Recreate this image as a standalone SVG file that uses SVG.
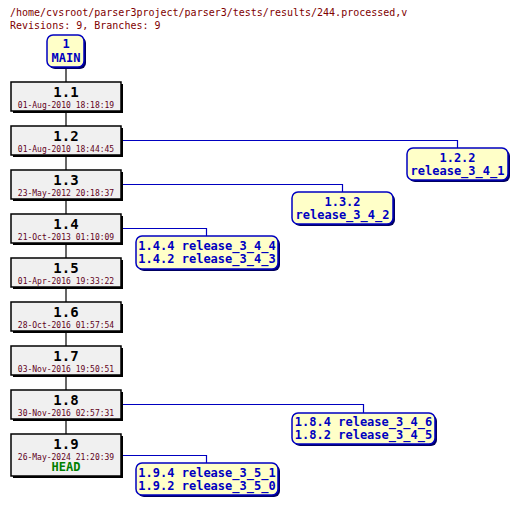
<svg xmlns="http://www.w3.org/2000/svg" width="518" height="505" viewBox="0 0 518 505">
<style>
.hdr{font-family:"DejaVu Sans Mono","Liberation Mono",monospace;font-size:10px;fill:#800000}
.rv{fill:#f0f0f0;stroke:#000;stroke-width:1.5}
.sh{fill:#000}
.bsh{fill:#000060}
.num{font-family:"DejaVu Sans Mono","Liberation Mono",monospace;font-size:14px;font-weight:bold;fill:#000;text-anchor:middle}
.dt{font-family:"DejaVu Sans Mono","Liberation Mono",monospace;font-size:8px;fill:#600020;text-anchor:middle}
.head{font-family:"DejaVu Sans Mono","Liberation Mono",monospace;font-size:12px;font-weight:bold;fill:#008000;text-anchor:middle}
.br{fill:#ffffc8;stroke:#0000c0;stroke-width:1.5}
.bt{font-family:"DejaVu Sans Mono","Liberation Mono",monospace;font-size:12px;font-weight:bold;fill:#0000c0;text-anchor:middle}
.tl{stroke:#000;stroke-width:1.2;fill:none}
.bl{stroke:#0000c0;stroke-width:1.2;fill:none}
</style>
<text class="hdr" x="10" y="16">/home/cvsroot/parser3project/parser3/tests/results/244.processed,v</text>
<text class="hdr" x="10" y="29">Revisions: 9, Branches: 9</text>
<g id="connectors">
<line class="tl" x1="66" y1="67" x2="66" y2="434"/>
<polyline class="bl" points="121,140.5 457.5,140.5 457.5,148"/>
<polyline class="bl" points="121,184.5 342.5,184.5 342.5,192"/>
<polyline class="bl" points="121,228.5 206.5,228.5 206.5,236"/>
<polyline class="bl" points="121,404.5 363.5,404.5 363.5,413"/>
<polyline class="bl" points="121,455.5 206.5,455.5 206.5,463"/>
</g>
<g id="main">
<rect class="bsh" x="49" y="37" width="37" height="32" rx="6"/>
<rect class="br" x="47" y="35" width="37" height="32" rx="6"/>
<text class="bt" x="66" y="48">1</text>
<text class="bt" x="66" y="62">MAIN</text>
</g>
<g id="r1_1">
<rect class="sh" x="13" y="84" width="110" height="29"/>
<rect class="rv" x="11" y="82" width="110" height="29"/>
<text class="num" x="66" y="97">1.1</text>
<text class="dt" x="66" y="107.5">01-Aug-2010 18:18:19</text>
</g>
<g id="r1_2">
<rect class="sh" x="13" y="128" width="110" height="29"/>
<rect class="rv" x="11" y="126" width="110" height="29"/>
<text class="num" x="66" y="141">1.2</text>
<text class="dt" x="66" y="151.5">01-Aug-2010 18:44:45</text>
</g>
<g id="r1_3">
<rect class="sh" x="13" y="172" width="110" height="29"/>
<rect class="rv" x="11" y="170" width="110" height="29"/>
<text class="num" x="66" y="185">1.3</text>
<text class="dt" x="66" y="195.5">23-May-2012 20:18:37</text>
</g>
<g id="r1_4">
<rect class="sh" x="13" y="216" width="110" height="29"/>
<rect class="rv" x="11" y="214" width="110" height="29"/>
<text class="num" x="66" y="229">1.4</text>
<text class="dt" x="66" y="239.5">21-Oct-2013 01:10:09</text>
</g>
<g id="r1_5">
<rect class="sh" x="13" y="260" width="110" height="29"/>
<rect class="rv" x="11" y="258" width="110" height="29"/>
<text class="num" x="66" y="273">1.5</text>
<text class="dt" x="66" y="283.5">01-Apr-2016 19:33:22</text>
</g>
<g id="r1_6">
<rect class="sh" x="13" y="304" width="110" height="29"/>
<rect class="rv" x="11" y="302" width="110" height="29"/>
<text class="num" x="66" y="317">1.6</text>
<text class="dt" x="66" y="327.5">28-Oct-2016 01:57:54</text>
</g>
<g id="r1_7">
<rect class="sh" x="13" y="348" width="110" height="29"/>
<rect class="rv" x="11" y="346" width="110" height="29"/>
<text class="num" x="66" y="361">1.7</text>
<text class="dt" x="66" y="371.5">03-Nov-2016 19:50:51</text>
</g>
<g id="r1_8">
<rect class="sh" x="13" y="392" width="110" height="29"/>
<rect class="rv" x="11" y="390" width="110" height="29"/>
<text class="num" x="66" y="405">1.8</text>
<text class="dt" x="66" y="415.5">30-Nov-2016 02:57:31</text>
</g>
<g id="r1_9">
<rect class="sh" x="13" y="436" width="110" height="42"/>
<rect class="rv" x="11" y="434" width="110" height="42"/>
<text class="num" x="66" y="449">1.9</text>
<text class="dt" x="66" y="459.5">26-May-2024 21:20:39</text>
<text class="head" x="66" y="471">HEAD</text>
</g>
<g id="b1_2_2">
<rect class="bsh" x="409" y="150" width="101" height="32" rx="6"/>
<rect class="br" x="407" y="148" width="101" height="32" rx="6"/>
<text class="bt" x="457.5" y="162">1.2.2</text>
<text class="bt" x="457.5" y="175">release_3_4_1</text>
</g>
<g id="b1_3_2">
<rect class="bsh" x="294" y="194" width="101" height="32" rx="6"/>
<rect class="br" x="292" y="192" width="101" height="32" rx="6"/>
<text class="bt" x="342.5" y="206">1.3.2</text>
<text class="bt" x="342.5" y="219">release_3_4_2</text>
</g>
<g id="b1_4">
<rect class="bsh" x="138" y="238" width="142" height="33" rx="6"/>
<rect class="br" x="136" y="236" width="142" height="33" rx="6"/>
<text class="bt" x="207" y="250">1.4.4 release_3_4_4</text>
<text class="bt" x="207" y="263">1.4.2 release_3_4_3</text>
</g>
<g id="b1_8">
<rect class="bsh" x="294" y="415" width="143" height="31" rx="6"/>
<rect class="br" x="292" y="413" width="143" height="31" rx="6"/>
<text class="bt" x="363.5" y="426">1.8.4 release_3_4_6</text>
<text class="bt" x="363.5" y="439">1.8.2 release_3_4_5</text>
</g>
<g id="b1_9">
<rect class="bsh" x="138" y="465" width="142" height="32" rx="6"/>
<rect class="br" x="136" y="463" width="142" height="32" rx="6"/>
<text class="bt" x="207" y="477">1.9.4 release_3_5_1</text>
<text class="bt" x="207" y="490">1.9.2 release_3_5_0</text>
</g>
</svg>
